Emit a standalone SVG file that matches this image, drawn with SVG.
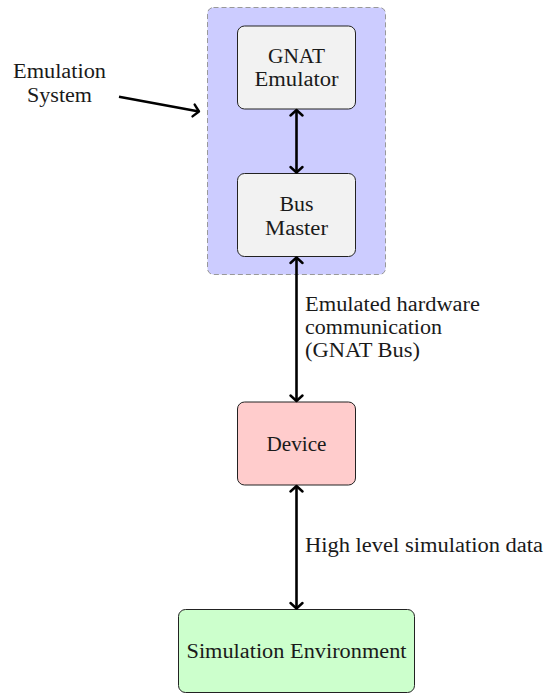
<svg xmlns="http://www.w3.org/2000/svg" width="551" height="694" viewBox="0 0 551 694">
<style>
text{font-family:"Liberation Serif","DejaVu Serif",serif;font-size:20px;fill:#1a1a1a}
.m{text-anchor:middle}
.n{stroke:#222;stroke-width:1}
.c{stroke:#000;stroke-width:2.6;fill:none}
.h{stroke:#000;stroke-width:2.4;fill:none;stroke-linecap:round;stroke-linejoin:round}
</style>
<defs>
<marker id="a" markerUnits="userSpaceOnUse" markerWidth="16" markerHeight="16" refX="8" refY="8" orient="auto-start-reverse" viewBox="0 0 16 16">
<path d="M2.5,2 L8,8 L2.5,14" class="h"/>
</marker>
</defs>
<g id="emulation-system">
<rect x="207.5" y="7.5" width="178" height="267" rx="6" fill="#ccccff" stroke="#999" stroke-dasharray="5,3" stroke-width="1"/>
</g>
<g id="gnat-emulator">
<rect class="n" x="237.5" y="26" width="118" height="83" rx="7" fill="#f2f2f2"/>
<text class="m" x="296.5" y="63" textLength="57" lengthAdjust="spacingAndGlyphs">GNAT</text>
<text class="m" x="296.5" y="86" textLength="84" lengthAdjust="spacingAndGlyphs">Emulator</text>
</g>
<g id="bus-master">
<rect class="n" x="237.5" y="173.5" width="118" height="83" rx="7" fill="#f2f2f2"/>
<text class="m" x="296.5" y="211" textLength="34" lengthAdjust="spacingAndGlyphs">Bus</text>
<text class="m" x="296.5" y="235" textLength="63" lengthAdjust="spacingAndGlyphs">Master</text>
</g>
<g id="device">
<rect class="n" x="237.5" y="402" width="118" height="83" rx="7" fill="#ffcccc"/>
<text class="m" x="296.5" y="451" textLength="60" lengthAdjust="spacingAndGlyphs">Device</text>
</g>
<g id="simulation-environment">
<rect class="n" x="178.5" y="609.5" width="236" height="83" rx="7" fill="#ccffcc"/>
<text class="m" x="296.5" y="658" textLength="220" lengthAdjust="spacingAndGlyphs">Simulation Environment</text>
</g>
<g id="label-emulation">
<text class="m" x="59.5" y="78" textLength="93" lengthAdjust="spacingAndGlyphs">Emulation</text>
<text class="m" x="59.5" y="102" textLength="65" lengthAdjust="spacingAndGlyphs">System</text>
</g>
<g id="connectors">
<line class="c" x1="119" y1="96.7" x2="199" y2="111.5" marker-end="url(#a)"/>
<line class="c" x1="296.5" y1="110" x2="296.5" y2="172.5" marker-start="url(#a)" marker-end="url(#a)"/>
<line class="c" x1="296.5" y1="257.5" x2="296.5" y2="401" marker-start="url(#a)" marker-end="url(#a)"/>
<line class="c" x1="296.5" y1="486" x2="296.5" y2="608.5" marker-start="url(#a)" marker-end="url(#a)"/>
<text x="305" y="311" textLength="175" lengthAdjust="spacingAndGlyphs">Emulated hardware</text>
<text x="305" y="334" textLength="137" lengthAdjust="spacingAndGlyphs">communication</text>
<text x="305" y="357" textLength="115" lengthAdjust="spacingAndGlyphs">(GNAT Bus)</text>
<text x="305" y="552" textLength="238" lengthAdjust="spacingAndGlyphs">High level simulation data</text>
</g>
</svg>
